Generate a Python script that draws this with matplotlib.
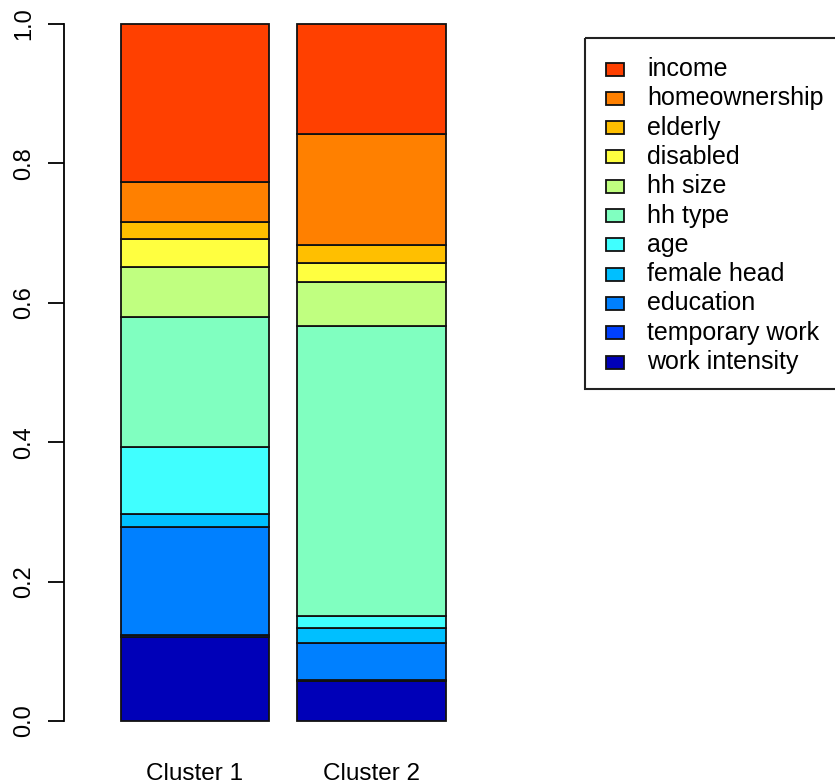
import matplotlib
matplotlib.use("Agg")
import matplotlib.pyplot as plt
from matplotlib.patches import Rectangle
import numpy as np

plt.rcParams['font.family'] = ['Liberation Sans', 'DejaVu Sans']

# stacking order from bottom to top
components = ["work intensity", "temporary work", "education", "female head", "age",
              "hh type", "hh size", "disabled", "elderly", "homeownership", "income"]
clusters = ["Cluster 1", "Cluster 2"]

# shares (each column sums to 1)
cluster1 = [0.121, 0.003, 0.155, 0.018, 0.096, 0.186, 0.072, 0.041, 0.024, 0.057, 0.227]
cluster2 = [0.057, 0.002, 0.053, 0.021, 0.018, 0.416, 0.063, 0.027, 0.026, 0.159, 0.158]

colors = ["#0000B8", "#0040FF", "#0080FF", "#00BFFF", "#40FFFF",
          "#80FFC0", "#C0FF80", "#FFFF40", "#FFBF00", "#FF8000", "#FF4000"]

W, H = 835, 784
fig = plt.figure(figsize=(W / 100, H / 100), dpi=100)

# plot region in pixels: left 64, right 800, top 24, bottom 721
ax = fig.add_axes([64 / W, (H - 721) / H, (800 - 64) / W, (721 - 24) / H])

space = 0.19
xpos = np.array([space + i * (1 + space) + 0.5 for i in range(len(clusters))])
data = np.array([cluster1, cluster2]).T

bottom = np.zeros(len(clusters))
for name, vals, col in zip(components, data, colors):
    ax.bar(xpos, vals, width=1.0, bottom=bottom, color=col,
           edgecolor="#111111", linewidth=1.3, label=name, clip_on=False)
    bottom += vals

ax.set_xlim(-0.192, -0.192 + 736 / 148.5)
ax.set_ylim(0, 1)

for s in ["top", "right", "bottom"]:
    ax.spines[s].set_visible(False)
ax.spines["left"].set_bounds(0, 1)
ax.spines["left"].set_linewidth(1.3)

ax.set_yticks([0.0, 0.2, 0.4, 0.6, 0.8, 1.0])
ax.set_yticklabels(["0.0", "0.2", "0.4", "0.6", "0.8", "1.0"],
                   rotation=90, va="center", fontsize=17)
ax.tick_params(axis="y", length=11.5, width=1.3, pad=9)

ax.set_xticks(xpos)
ax.set_xticklabels(clusters, fontsize=17.5)
ax.tick_params(axis="x", length=0, pad=30)

# legend drawn in pixel coordinates
lax = fig.add_axes([0, 0, 1, 1])
lax.set_xlim(0, W)
lax.set_ylim(H, 0)
lax.axis("off")
lax.add_patch(Rectangle((585, 38), 300, 351, fill=False, edgecolor="#222222",
                        linewidth=1.5))
row0, step = 69, 29.3
for i, (name, col) in enumerate(zip(components[::-1], colors[::-1])):
    y = row0 + i * step
    lax.add_patch(Rectangle((606, y - 6.5), 18, 13, facecolor=col,
                            edgecolor="#111111", linewidth=1.3))
    lax.text(647, y, name, fontsize=18, va="center", ha="left")

fig.savefig("out.png", dpi=100)
